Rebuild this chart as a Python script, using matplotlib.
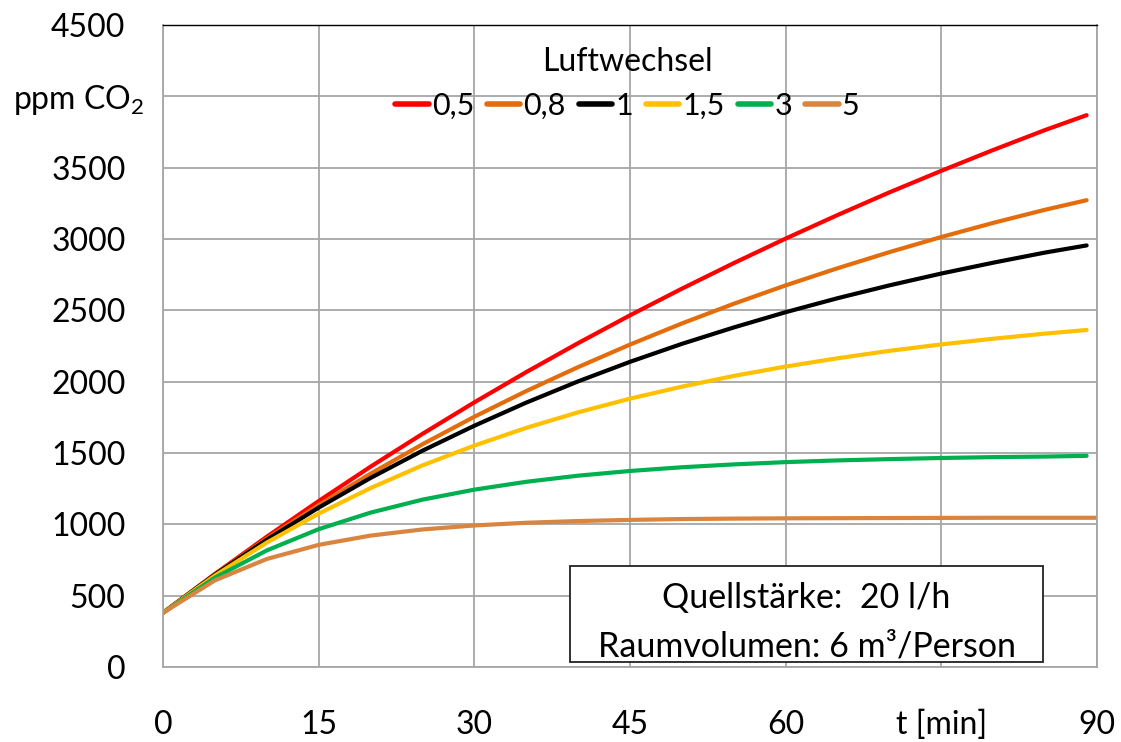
import matplotlib.pyplot as plt
from matplotlib.patches import Rectangle
from matplotlib.transforms import ScaledTranslation

plt.rcParams['font.family'] = ['Lato', 'DejaVu Sans']
plt.rcParams['mathtext.fontset'] = 'custom'
plt.rcParams['mathtext.rm'] = 'Lato'

# minutes
t = [0, 5, 10, 15, 20, 25, 30, 35, 40, 45, 50, 55, 60, 65, 70, 75, 80, 85, 89]
t5 = [0, 5, 10, 15, 20, 25, 30, 35, 40, 45, 50, 55, 60, 65, 70, 75, 80, 85, 90]

# ppm CO2 per air change rate
co2_05 = [380, 652, 913, 1163, 1404, 1634, 1855, 2067, 2270, 2465, 2652, 2831, 3003, 3168, 3327, 3478, 3624, 3764, 3868]
co2_08 = [380, 649, 900, 1135, 1355, 1561, 1754, 1934, 2102, 2260, 2408, 2546, 2675, 2795, 2908, 3014, 3113, 3205, 3272]
co2_1 = [380, 647, 892, 1117, 1325, 1516, 1691, 1853, 2002, 2139, 2265, 2380, 2487, 2585, 2675, 2758, 2834, 2905, 2955]
co2_15 = [380, 641, 872, 1075, 1254, 1413, 1552, 1676, 1785, 1881, 1965, 2040, 2106, 2164, 2216, 2261, 2301, 2337, 2362]
co2_3 = [380, 626, 817, 966, 1082, 1173, 1243, 1298, 1341, 1374, 1400, 1420, 1436, 1448, 1457, 1465, 1471, 1475, 1480]
co2_5 = [380, 607, 757, 856, 921, 964, 992, 1011, 1023, 1031, 1037, 1040, 1042, 1043, 1044, 1045, 1046, 1046, 1046]

labels = ['0,5', '0,8', '1', '1,5', '3', '5']
colors = ['#FF0000', '#E46C0A', '#000000', '#FFC000', '#00B050', '#D9843F']

x_ticks = [0, 15, 30, 45, 60, 75, 90]
x_ticklabels = ['0', '15', '30', '45', '60', 't [min]', '90']
y_ticks = [0, 500, 1000, 1500, 2000, 2500, 3000, 3500, 4000, 4500]
y_ticklabels = ['0', '500', '1000', '1500', '2000', '2500', '3000', '3500',
                'ppm CO$_\\mathregular{2}$', '4500']

fig = plt.figure(figsize=(11.21, 7.42), dpi=100)
ax = fig.add_axes([0.1454, 0.1011, 0.8332, 0.8652])

series = [(t, co2_05), (t, co2_08), (t, co2_1), (t, co2_15), (t, co2_3), (t5, co2_5)]
for (xs, ys), lab, c in zip(series, labels, colors):
    ax.plot(xs, ys, color=c, lw=3, label=lab, solid_capstyle='round')

ax.set_xlim(0, 90)
ax.set_ylim(0, 4500)
ax.set_xticks(x_ticks)
ax.set_xticklabels(x_ticklabels)
ax.set_yticks(y_ticks)
ax.set_yticklabels(y_ticklabels)
ax.tick_params(axis='both', length=0, labelsize=23)
ax.tick_params(axis='x', pad=31)
ax.tick_params(axis='y', pad=27)
ax.grid(True, color='#A6A6A6', lw=1.3)
ax.set_axisbelow(True)
for s in ['left', 'bottom', 'right']:
    ax.spines[s].set_color('#A6A6A6')
    ax.spines[s].set_linewidth(1.3)
ax.spines['top'].set_color('#000000')
ax.spines['top'].set_linewidth(1.0)

# unit label sits a bit further right than the numbers
ppm = ax.get_yticklabels()[8]
ppm.set_transform(ppm.get_transform() + ScaledTranslation(0.19, 0, fig.dpi_scale_trans))

leg = ax.legend(title='Luftwechsel', ncol=6, loc='upper center',
                bbox_to_anchor=(0.497, 0.985), frameon=False, fontsize=22,
                title_fontsize=23, handlelength=1.1, handletextpad=0.1,
                columnspacing=0.42, borderaxespad=0)
for line in leg.get_lines():
    line.set_linewidth(4)

ax.add_patch(Rectangle((0.4358, 0.0078), 0.5064, 0.1495, transform=ax.transAxes,
                       facecolor='white', edgecolor='#222222', lw=1.3, zorder=5))
ax.text(0.689, 0.107, 'Quellstärke:  20 l/h', transform=ax.transAxes,
        ha='center', va='center', fontsize=24.5, zorder=6)
ax.text(0.689, 0.032, 'Raumvolumen: 6 m³/Person', transform=ax.transAxes,
        ha='center', va='center', fontsize=24.5, zorder=6)

fig.savefig('out.png', dpi=100)
